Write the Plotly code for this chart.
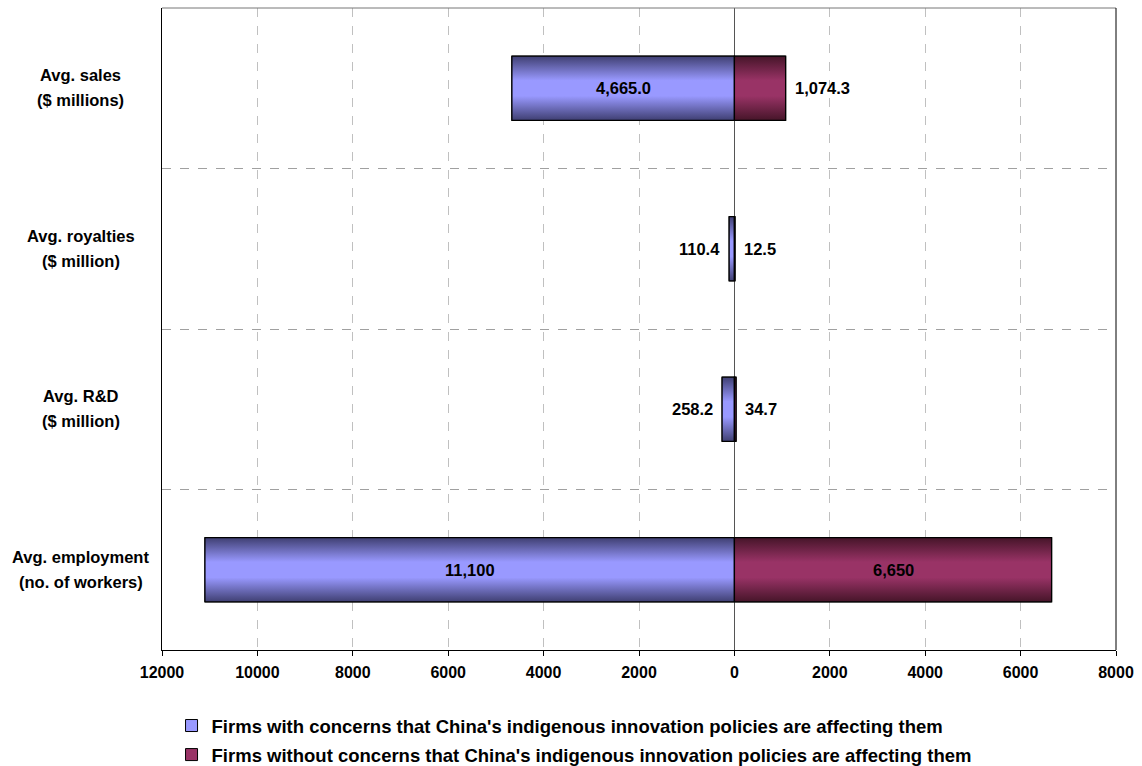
import plotly.graph_objects as go

# Survey averages, top to bottom as listed
categories = [
    ["Avg. sales", "($ millions)"],
    ["Avg. royalties", "($ million)"],
    ["Avg. R&D", "($ million)"],
    ["Avg. employment", "(no. of workers)"],
]
with_concerns = [4665.0, 110.4, 258.2, 11100]
without_concerns = [1074.3, 12.5, 34.7, 6650]
label_decimals = [1, 1, 1, 0]

series_names = [
    "Firms with concerns that China's indigenous innovation policies are affecting them",
    "Firms without concerns that China's indigenous innovation policies are affecting them",
]

tick_values = list(range(-12000, 8001, 2000))
tick_labels = [str(abs(v)) for v in tick_values]

FONT = "Arial, Liberation Sans, Helvetica, sans-serif"
BLUE_MID, BLUE_EDGE = "#9999ff", "#3f3f72"
RED_MID, RED_EDGE = "#993366", "#461529"
HALF = 0.2  # half bar thickness in category units

n = len(categories)
ypos = [n - 1 - i for i in range(n)]

fig = go.Figure()

# Plain bars carry the data and the legend entries
for name, vals, sign, mid in [
    (series_names[0], with_concerns, -1, BLUE_MID),
    (series_names[1], without_concerns, 1, RED_MID),
]:
    fig.add_trace(go.Bar(
        name=name, orientation="h",
        x=[sign * v for v in vals], y=ypos, width=2 * HALF,
        marker=dict(color=mid, line=dict(color="black", width=1)),
        legendgroup=name, hoverinfo="skip",
    ))

# Shaded overlay for each bar (vertical gradient, dark edges, light centre)
for vals, sign, mid, edge in [
    (with_concerns, -1, BLUE_MID, BLUE_EDGE),
    (without_concerns, 1, RED_MID, RED_EDGE),
]:
    for v, y in zip(vals, ypos):
        xv = sign * v
        fig.add_trace(go.Scatter(
            x=[0, xv, xv, 0, 0],
            y=[y - HALF, y - HALF, y + HALF, y + HALF, y - HALF],
            mode="lines", fill="toself",
            fillgradient=dict(type="vertical",
                              colorscale=[[0, edge], [0.38, mid], [0.62, mid], [1, edge]]),
            line=dict(color="black", width=1.3),
            showlegend=False, hoverinfo="skip",
        ))

annotations = []
# Value labels
for vals, sign in [(with_concerns, -1), (without_concerns, 1)]:
    for v, y, d in zip(vals, ypos, label_decimals):
        txt = f"{v:,.{d}f}"
        xv = sign * v
        if v > 2000:
            annotations.append(dict(x=xv / 2, y=y, text=txt, showarrow=False,
                                    xanchor="center", yanchor="middle",
                                    font=dict(size=16.5)))
        else:
            annotations.append(dict(x=xv, y=y, text=txt, showarrow=False,
                                    xanchor="right" if sign < 0 else "left",
                                    xshift=-7 if sign < 0 else 7, yanchor="middle",
                                    font=dict(size=16.5)))

# Category labels, centred two-line text left of the plot
for lines, y in zip(categories, ypos):
    for k, line in enumerate(lines):
        annotations.append(dict(x=-0.085, xref="paper", y=y, yref="y", text=line,
                                showarrow=False, xanchor="center", yanchor="middle",
                                yshift=13 - 25 * k, font=dict(size=16.5)))

# Top frame edge in grey
shapes = [dict(type="line", xref="paper", yref="paper", x0=0, x1=1, y0=1, y1=1,
               line=dict(color="#777777", width=1))]

fig.update_layout(
    width=1142, height=766,
    margin=dict(l=162, r=26, t=8, b=116, autoexpand=False),
    paper_bgcolor="white", plot_bgcolor="white",
    font=dict(family=FONT, size=16, color="black", weight="bold"),
    barmode="overlay",
    showlegend=True,
    legend=dict(orientation="v", x=0.010, xanchor="left",
                yref="container", y=1 - 707 / 766, yanchor="top",
                font=dict(size=18.5, weight="bold"), tracegroupgap=2,
                itemwidth=30, bgcolor="rgba(0,0,0,0)"),
    annotations=annotations,
    shapes=shapes,
    xaxis=dict(
        range=[-12000, 8000], tickvals=tick_values, ticktext=tick_labels,
        showgrid=True, gridcolor="#c0c0c0", griddash="dash", gridwidth=1,
        zeroline=True, zerolinecolor="#555555", zerolinewidth=1,
        showline=True, linecolor="black", linewidth=1, mirror=False,
        ticks="outside", ticklen=5, tickcolor="black", ticklabelstandoff=3,
        tickfont=dict(size=16, weight="bold"), fixedrange=True,
    ),
    yaxis=dict(
        range=[-0.5, n - 0.5], tickvals=ypos, ticktext=[""] * n,
        showgrid=False, zeroline=False,
        showline=True, linecolor="black", linewidth=1, mirror=False,
        ticks="", fixedrange=True,
        minor=dict(tickvals=[k + 0.5 for k in range(n - 1)], showgrid=True,
                   gridcolor="#a0a0a0", griddash="dash", gridwidth=1, ticks=""),
    ),
)

# Right frame edge in black
fig.add_shape(type="line", xref="paper", yref="paper", x0=1, x1=1, y0=0, y1=1,
              line=dict(color="black", width=1))

fig.write_html("out.html")
